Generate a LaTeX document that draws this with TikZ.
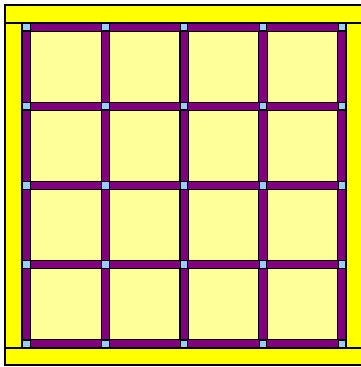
\documentclass[tikz,border=0pt]{standalone}
\definecolor{frameyellow}{HTML}{FFFF00}
\definecolor{paleyellow}{HTML}{FFFF99}
\definecolor{barpurple}{HTML}{800080}
\definecolor{jointblue}{HTML}{99CCFF}
\tikzset{
  framebar/.style={fill=frameyellow,draw=black,line width=1.3pt},
  cell/.style={fill=paleyellow,draw=black!70!olive,line width=1pt},
  bar/.style={fill=barpurple,draw=black,line width=1.1pt},
  joint/.style={fill=jointblue,draw=black,line width=0.9pt}
}
\begin{document}
\begin{tikzpicture}[x=1pt,y=-1pt]
\useasboundingbox (0,0) rectangle (361,367);
\clip (0,0) rectangle (361,367);
% cells background
\fill[paleyellow] (22,23) rectangle (346,348);
% vertical bars
\foreach \i in {0,...,4}{
  \pgfmathsetmacro{\xc}{26.5+78.9*\i}
  \draw[bar] (\xc-4.3,23) rectangle (\xc+4.3,348);
}
% horizontal bars
\foreach \j in {0,...,4}{
  \pgfmathsetmacro{\yc}{27.2+79.1*\j}
  \draw[bar] (22,\yc-4) rectangle (346,\yc+4);
}
% joints
\foreach \i in {0,...,4}{
  \foreach \j in {0,...,4}{
    \pgfmathsetmacro{\xc}{26.5+78.9*\i}
    \pgfmathsetmacro{\yc}{27.2+79.1*\j}
    \draw[joint] (\xc-3.6,\yc-3.6) rectangle (\xc+3.6,\yc+3.6);
  }
}
% outer frame
\draw[framebar] (5,23) rectangle (22,348);
\draw[framebar] (346,23) rectangle (366,348);
\draw[framebar] (5,5) rectangle (366,23);
\draw[framebar] (5,348) rectangle (366,365);
\end{tikzpicture}
\end{document}
